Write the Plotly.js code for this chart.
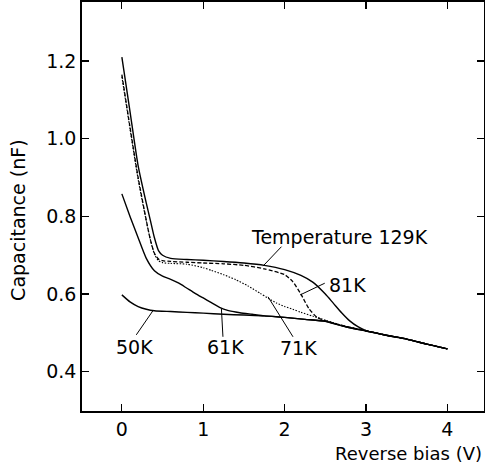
<!DOCTYPE html>
<html>
<head>
<meta charset="utf-8">
<script src="https://cdn.plot.ly/plotly-3.0.1.min.js"></script>
<style>html,body{margin:0;padding:0;background:#fff;}#chart{width:485px;height:472px;}</style>
</head>
<body>
<div id="chart"></div>
<script>
// Reverse bias (V) and capacitance (nF)
var x129 = [0, 0.1, 0.2, 0.3, 0.35, 0.4, 0.45, 0.5, 0.6, 0.8, 1.0, 1.25, 1.5, 1.75, 2.0, 2.2, 2.35, 2.5, 2.6, 2.7, 2.8, 2.9, 3.0, 3.25, 3.5, 3.75, 4.0];
var y129 = [1.21, 1.07, 0.93, 0.834, 0.79, 0.745, 0.712, 0.700, 0.692, 0.689, 0.687, 0.684, 0.680, 0.674, 0.663, 0.648, 0.630, 0.600, 0.576, 0.552, 0.531, 0.516, 0.506, 0.494, 0.484, 0.471, 0.459];

var x81 = [0, 0.1, 0.2, 0.3, 0.35, 0.4, 0.45, 0.5, 0.6, 0.8, 1.0, 1.25, 1.5, 1.75, 2.0, 2.1, 2.2, 2.3, 2.4, 2.5, 2.6, 2.75, 3.0, 3.25, 3.5, 3.75, 4.0];
var y81 = [1.165, 1.03, 0.90, 0.79, 0.74, 0.705, 0.690, 0.686, 0.684, 0.682, 0.680, 0.678, 0.674, 0.665, 0.650, 0.632, 0.600, 0.562, 0.540, 0.531, 0.525, 0.517, 0.506, 0.494, 0.484, 0.471, 0.459];

var x71 = [0, 0.1, 0.2, 0.3, 0.35, 0.4, 0.45, 0.5, 0.6, 0.8, 1.0, 1.1, 1.25, 1.4, 1.55, 1.7, 1.8, 1.9, 2.0, 2.1, 2.2, 2.35, 2.5, 2.6, 2.75, 3.0, 3.25, 3.5, 3.75, 4.0];
var y71 = [1.16, 1.025, 0.895, 0.788, 0.74, 0.703, 0.686, 0.681, 0.679, 0.677, 0.668, 0.661, 0.650, 0.637, 0.621, 0.602, 0.589, 0.577, 0.568, 0.561, 0.553, 0.543, 0.533, 0.526, 0.517, 0.506, 0.494, 0.484, 0.471, 0.459];

var x61 = [0, 0.1, 0.2, 0.3, 0.4, 0.5, 0.6, 0.7, 0.8, 0.9, 1.0, 1.1, 1.2, 1.3, 1.45, 1.6, 1.75, 2.0, 2.25, 2.5, 2.75, 3.0, 3.25, 3.5, 3.75, 4.0];
var y61 = [0.858, 0.800, 0.745, 0.692, 0.660, 0.646, 0.638, 0.628, 0.615, 0.602, 0.590, 0.578, 0.566, 0.558, 0.552, 0.548, 0.544, 0.540, 0.535, 0.530, 0.516, 0.505, 0.494, 0.484, 0.471, 0.459];

var x50 = [0, 0.1, 0.2, 0.3, 0.4, 0.6, 0.8, 1.0, 1.25, 1.5, 1.75, 2.0, 2.25, 2.5, 2.6, 2.75, 3.0, 3.25, 3.5, 3.75, 4.0];
var y50 = [0.598, 0.580, 0.568, 0.561, 0.557, 0.555, 0.553, 0.551, 0.548, 0.546, 0.544, 0.540, 0.535, 0.530, 0.524, 0.516, 0.505, 0.494, 0.484, 0.471, 0.459];

var xTicks = [0, 1, 2, 3, 4];
var yTicks = [0.4, 0.6, 0.8, 1.0, 1.2];

var F = 'DejaVu Sans, sans-serif';
function tr(x, y, dash, w) {
  return {x: x, y: y, type: 'scatter', mode: 'lines', showlegend: false, hoverinfo: 'skip',
          line: {color: '#000', width: w, dash: dash, shape: 'spline', smoothing: 0.6}};
}
var data = [tr(x50, y50, 'solid', 1.4), tr(x61, y61, 'solid', 1.4), tr(x71, y71, '1.5px,1.5px', 1.1),
            tr(x81, y81, '4px,2px', 1.3), tr(x129, y129, 'solid', 1.4)];

function lab(t, x, y) {
  return {text: t, x: x, y: y, xref: 'x', yref: 'y', showarrow: false, xanchor: 'center', yanchor: 'middle',
          font: {family: F, size: 19, color: '#000'}};
}
function lead(x0, y0, x1, y1) {
  return {type: 'line', xref: 'x', yref: 'y', x0: x0, y0: y0, x1: x1, y1: y1, line: {color: '#000', width: 1}};
}

var layout = {
  width: 485, height: 472,
  margin: {l: 82, r: 1, t: 2, b: 61},
  paper_bgcolor: '#fff', plot_bgcolor: '#fff',
  font: {family: F, size: 19, color: '#000'},
  xaxis: {range: [-0.49, 4.45], tickvals: xTicks, ticktext: xTicks.map(String), ticks: 'inside', ticklen: 7, tickwidth: 1.2,
          tickcolor: '#000', showline: true, linecolor: '#000', linewidth: 1.8, mirror: 'allticks', showgrid: false, zeroline: false,
          tickfont: {family: F, size: 19}},
  yaxis: {range: [0.299, 1.352], tickvals: yTicks, ticktext: yTicks.map(function(v){return v.toFixed(1);}), ticks: 'inside', ticklen: 7, tickwidth: 1.2,
          tickcolor: '#000', showline: true, linecolor: '#000', linewidth: 1.8, mirror: 'allticks', showgrid: false, zeroline: false,
          tickfont: {family: F, size: 19}},
  annotations: [
    lab('Temperature 129K', 2.68, 0.747),
    lab('81K', 2.77, 0.623),
    lab('71K', 2.165, 0.460),
    lab('61K', 1.269, 0.464),
    lab('50K', 0.154, 0.464),
    {text: 'Reverse bias (V)', xref: 'paper', yref: 'paper', x: 1, y: -0.103, xanchor: 'right', yanchor: 'middle', showarrow: false,
     font: {family: F, size: 18, color: '#000'}},
    {text: 'Capacitance (nF)', xref: 'paper', yref: 'paper', x: -0.158, y: 0.466, xanchor: 'center', yanchor: 'middle', textangle: -90, showarrow: false,
     font: {family: F, size: 19, color: '#000'}}
  ],
  shapes: [
    lead(1.961, 0.722, 1.734, 0.672),
    lead(2.493, 0.628, 2.192, 0.598),
    lead(2.103, 0.490, 1.796, 0.593),
    lead(1.242, 0.490, 1.223, 0.563),
    lead(0.177, 0.495, 0.381, 0.557)
  ]
};
Plotly.newPlot('chart', data, layout, {displayModeBar: false, staticPlot: true});
</script>
</body>
</html>
